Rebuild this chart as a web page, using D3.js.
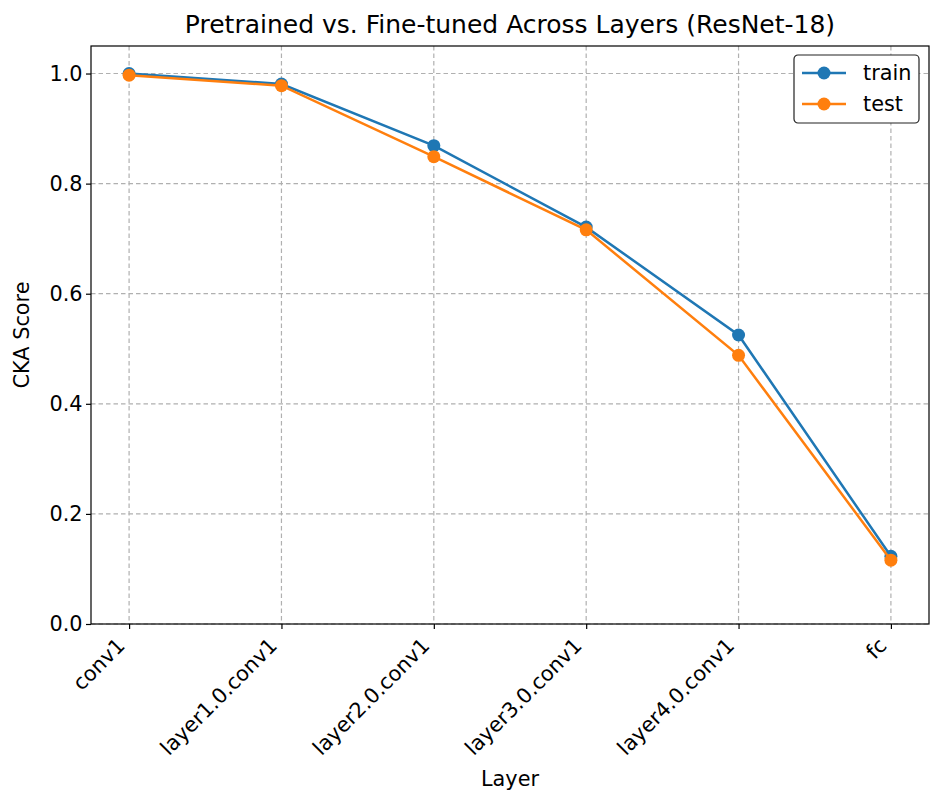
<!DOCTYPE html>
<html>
<head>
<meta charset="utf-8">
<script src="https://cdn.jsdelivr.net/npm/d3@7"></script>
<style>
  body { margin: 0; background: #fff; }
  text { font-family: "DejaVu Sans", sans-serif; fill: #000; }
</style>
</head>
<body>
<div id="chart"></div>
<script>
// DATA
const layers = ["conv1", "layer1.0.conv1", "layer2.0.conv1", "layer3.0.conv1", "layer4.0.conv1", "fc"];
const trainScores = [1.0, 0.981, 0.869, 0.721, 0.525, 0.123];
const testScores = [0.997, 0.978, 0.849, 0.716, 0.488, 0.116];
const yTicks = [0.0, 0.2, 0.4, 0.6, 0.8, 1.0];

// LAYOUT
const W = 943, H = 806;
const margin = { top: 46, right: 14, bottom: 182, left: 91 };
const width = W - margin.left - margin.right;
const height = H - margin.top - margin.bottom;
const fontSize = "20.8px";

const svg = d3.select("#chart")
    .append("svg")
    .attr("width", W)
    .attr("height", H);

const g = svg.append("g")
    .attr("transform", `translate(${margin.left},${margin.top})`);

const xScale = d3.scaleLinear()
    .domain([-0.25, layers.length - 1 + 0.25])
    .range([0, width]);

const yScale = d3.scaleLinear()
    .domain([0, 1.05])
    .range([height, 0]);

// GRID
g.append("g")
    .selectAll("line")
    .data(layers.map((_, i) => i))
    .enter()
    .append("line")
    .attr("x1", d => xScale(d))
    .attr("x2", d => xScale(d))
    .attr("y1", 0)
    .attr("y2", height)
    .attr("stroke", "#b0b0b0")
    .attr("stroke-width", 1.2)
    .attr("stroke-dasharray", "4.5,3");

g.append("g")
    .selectAll("line")
    .data(yTicks)
    .enter()
    .append("line")
    .attr("x1", 0)
    .attr("x2", width)
    .attr("y1", d => yScale(d))
    .attr("y2", d => yScale(d))
    .attr("stroke", "#b0b0b0")
    .attr("stroke-width", 1.2)
    .attr("stroke-dasharray", "4.5,3");

// AXES
const xAxis = g.append("g")
    .attr("transform", `translate(0,${height})`)
    .call(d3.axisBottom(xScale)
        .tickValues(layers.map((_, i) => i))
        .tickFormat(i => layers[i])
        .tickSize(5)
        .tickPadding(4));

xAxis.selectAll("text")
    .attr("font-size", fontSize)
    .attr("font-family", "DejaVu Sans")
    .attr("text-anchor", "end")
    .attr("x", 0)
    .attr("y", 0)
    .attr("dy", 0)
    .attr("transform", "translate(-3.5,23) rotate(-45)");

const yAxis = g.append("g")
    .call(d3.axisLeft(yScale)
        .tickValues(yTicks)
        .tickFormat(d3.format(".1f"))
        .tickSize(5)
        .tickPadding(3.5));

yAxis.selectAll("text")
    .attr("font-size", fontSize)
    .attr("font-family", "DejaVu Sans");

[xAxis, yAxis].forEach(a => {
    a.select(".domain").remove();
    a.selectAll(".tick line").attr("stroke", "#000").attr("stroke-width", 1.2);
});

// FRAME
g.append("rect")
    .attr("width", width)
    .attr("height", height)
    .attr("fill", "none")
    .attr("stroke", "#000")
    .attr("stroke-width", 1.2);

// LINES
const series = [
    { name: "train", values: trainScores, color: "#1f77b4" },
    { name: "test", values: testScores, color: "#ff7f0e" }
];

const line = d3.line()
    .x((d, i) => xScale(i))
    .y(d => yScale(d));

series.forEach(s => {
    g.append("path")
        .datum(s.values)
        .attr("fill", "none")
        .attr("stroke", s.color)
        .attr("stroke-width", 2.5)
        .attr("d", line);

    g.selectAll(null)
        .data(s.values)
        .enter()
        .append("circle")
        .attr("cx", (d, i) => xScale(i))
        .attr("cy", d => yScale(d))
        .attr("r", 6.5)
        .attr("fill", s.color);
});

// LABELS
svg.append("text")
    .attr("x", margin.left + width / 2)
    .attr("y", 33)
    .attr("text-anchor", "middle")
    .attr("font-size", "25px")
    .text("Pretrained vs. Fine-tuned Across Layers (ResNet-18)");

svg.append("text")
    .attr("x", margin.left + width / 2)
    .attr("y", 786)
    .attr("text-anchor", "middle")
    .attr("font-size", fontSize)
    .text("Layer");

svg.append("text")
    .attr("transform", "rotate(-90)")
    .attr("x", -(margin.top + height / 2))
    .attr("y", 29)
    .attr("text-anchor", "middle")
    .attr("font-size", fontSize)
    .text("CKA Score");

// LEGEND
const legend = svg.append("g").attr("transform", "translate(794,55)");
legend.append("rect")
    .attr("width", 125)
    .attr("height", 68)
    .attr("rx", 4)
    .attr("fill", "#fff")
    .attr("stroke", "#222")
    .attr("stroke-width", 1.2);

series.forEach((s, i) => {
    const yy = 18 + i * 31;
    legend.append("line")
        .attr("x1", 8).attr("x2", 52)
        .attr("y1", yy).attr("y2", yy)
        .attr("stroke", s.color)
        .attr("stroke-width", 2.5);
    legend.append("circle")
        .attr("cx", 30).attr("cy", yy)
        .attr("r", 6.5)
        .attr("fill", s.color);
    legend.append("text")
        .attr("x", 69)
        .attr("y", yy + 7)
        .attr("font-size", fontSize)
        .text(s.name);
});
</script>
</body>
</html>
